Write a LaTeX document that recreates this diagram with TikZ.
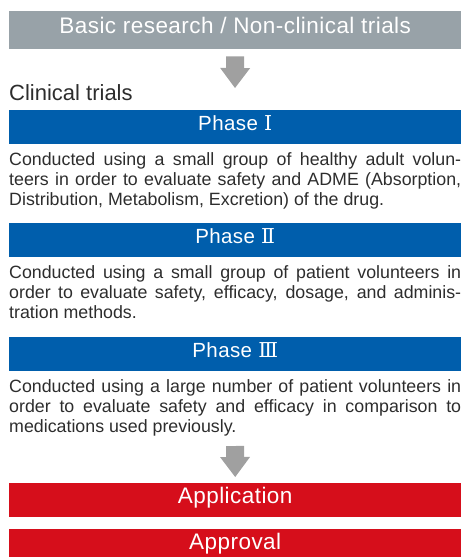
\documentclass[tikz,border=0pt]{standalone}
\usepackage{fontspec}
\setmainfont{Liberation Sans}
\newfontfamily\barfont[LetterSpace=2]{Liberation Sans}
\newfontfamily\numfont{DejaVu Serif}
\usepackage{tikz}
\usetikzlibrary{positioning,arrows.meta}
\definecolor{basicgray}{RGB}{152,162,168}
\definecolor{phaseblue}{RGB}{0,94,172}
\definecolor{stepred}{RGB}{214,14,27}
\definecolor{arrowgray}{RGB}{160,160,160}
\definecolor{bodytext}{RGB}{45,45,45}
\hyphenpenalty=10000

\begin{document}
\begin{tikzpicture}[x=1pt,y=-1pt,
		bar/.style={rectangle,anchor=north west,minimum width=452pt,minimum height=34pt,inner sep=0pt,text=white,text height=0.7em,text depth=0.05em},
		title bar/.style={bar,fill=basicgray,minimum height=38pt,font=\barfont\fontsize{22.5}{24}\selectfont},
		phase bar/.style={bar,fill=phaseblue,font=\barfont\fontsize{20.5}{24}\selectfont},
		red bar/.style={bar,fill=stepred,font=\barfont\fontsize{22.5}{24}\selectfont},
		para/.style={anchor=north west,inner sep=0pt,text width=452pt,align=justify,text=bodytext,font=\fontsize{17.8}{20}\selectfont},
		block arrow/.style={arrowgray,line width=18pt,-{Triangle[length=20pt,width=30pt,line width=0pt]}}]
		
		\useasboundingbox (0,0) rectangle (461,557);
		\clip (0,0) rectangle (461,557);
		
		\node[title bar] (node-basic) at (9,11) {Basic research / Non-clinical trials};
		\coordinate (tip-A) at (235,88);
		\draw[block arrow] ([yshift=-7pt]node-basic.south) -- (tip-A);
		\node[anchor=base west,inner sep=0pt,text=bodytext,font=\fontsize{22}{24}\selectfont] (node-clinical) at (9,100.5) {Clinical trials};
		
		\node[phase bar] (node-P1) at (9,110) {Phase {\numfont Ⅰ}};
		\node[para,below=8pt of node-P1.south west,anchor=north west] (text-P1) {Conducted using a small group of healthy adult volun-\linebreak teers in order to evaluate safety and ADME (Absorption,\linebreak Distribution, Metabolism, Excretion) of the drug.};
		
		\node[phase bar] (node-P2) at (9,223) {Phase {\numfont Ⅱ}};
		\node[para,below=7.5pt of node-P2.south west,anchor=north west] (text-P2) {Conducted using a small group of patient volunteers in\linebreak order to evaluate safety, efficacy, dosage, and adminis-\linebreak tration methods.};
		
		\node[phase bar] (node-P3) at (9,337) {Phase {\numfont Ⅲ}};
		\node[para,below=7.5pt of node-P3.south west,anchor=north west] (text-P3) {Conducted using a large number of patient volunteers in\linebreak order to evaluate safety and efficacy in comparison to\linebreak medications used previously.};
		
		\node[red bar] (node-apply) at (9,483) {Application};
		\coordinate (tail-B) at (235,446);
		\draw[block arrow] (tail-B) -- ([yshift=6pt]node-apply.north);
		\node[red bar] (node-approve) at (9,529) {Approval};
		\end{tikzpicture}
\end{document}
